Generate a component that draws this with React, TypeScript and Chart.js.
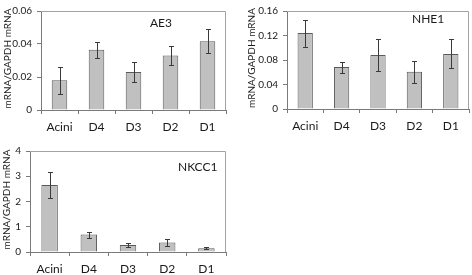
import React, { useEffect, useRef } from 'react';
import { Chart, registerables } from 'chart.js';

Chart.register(...registerables);

const categories = ['Acini', 'D4', 'D3', 'D2', 'D1'];

const ae3Values = [0.018, 0.0365, 0.023, 0.033, 0.0417];
const ae3Errors = [0.008, 0.005, 0.006, 0.0055, 0.0072];
const ae3Ticks = [0, 0.02, 0.04, 0.06];

const nhe1Values = [0.124, 0.0685, 0.088, 0.061, 0.09];
const nhe1Errors = [0.022, 0.009, 0.026, 0.018, 0.0235];
const nhe1Ticks = [0, 0.04, 0.08, 0.12, 0.16];

const nkcc1Values = [2.65, 0.69, 0.28, 0.38, 0.15];
const nkcc1Errors = [0.53, 0.12, 0.09, 0.15, 0.03];
const nkcc1Ticks = [0, 1, 2, 3, 4];

const yTitle = 'mRNA/GAPDH mRNA';
const FONT = 'Lato, "Open Sans", "Liberation Sans", sans-serif';

type Spec = {
  name: string;
  values: number[];
  errors: number[];
  ticks: number[];
  left: number;
  top: number;
  width: number;
  height: number;
  yAxisWidth: number;
  xAxisHeight: number;
  padTop: number;
  padRight: number;
  labelX: number;
  labelY: number;
  titleX: number;
};

const specs: Spec[] = [
  {
    name: 'AE3', values: ae3Values, errors: ae3Errors, ticks: ae3Ticks,
    left: 0, top: 0, width: 236, height: 140,
    yAxisWidth: 41, xAxisHeight: 30, padTop: 5, padRight: 10,
    labelX: 150, labelY: 23, titleX: 8,
  },
  {
    name: 'NHE1', values: nhe1Values, errors: nhe1Errors, ticks: nhe1Ticks,
    left: 236, top: 0, width: 236, height: 140,
    yAxisWidth: 51, xAxisHeight: 31, padTop: 4, padRight: 3,
    labelX: 176, labelY: 19, titleX: 16,
  },
  {
    name: 'NKCC1', values: nkcc1Values, errors: nkcc1Errors, ticks: nkcc1Ticks,
    left: 0, top: 140, width: 236, height: 135,
    yAxisWidth: 30, xAxisHeight: 23, padTop: 6, padRight: 10,
    labelX: 178, labelY: 27, titleX: 7,
  },
];

function Panel({ spec }: { spec: Spec }) {
  const ref = useRef<HTMLCanvasElement | null>(null);

  useEffect(() => {
    const canvas = ref.current;
    if (!canvas) return;

    const decor = {
      id: 'decor' + spec.name,
      afterDatasetsDraw(chart: any) {
        const { ctx, chartArea: a } = chart;
        const y = chart.scales.y;
        const meta = chart.getDatasetMeta(0);
        ctx.save();
        // frame top & right
        ctx.strokeStyle = '#a3a3a3';
        ctx.lineWidth = 1;
        ctx.beginPath();
        const t = Math.round(a.top) + 0.5;
        const r = Math.round(a.right) - 0.5;
        ctx.moveTo(a.left, t);
        ctx.lineTo(r, t);
        ctx.lineTo(r, a.bottom);
        ctx.stroke();
        // error bars
        ctx.strokeStyle = '#3a3a3a';
        meta.data.forEach((bar: any, i: number) => {
          const x = Math.round(bar.x) + 0.5;
          const v = spec.values[i];
          const e = spec.errors[i];
          const yt = Math.round(y.getPixelForValue(v + e)) + 0.5;
          const yb = Math.round(y.getPixelForValue(v - e)) + 0.5;
          ctx.beginPath();
          ctx.moveTo(x, yt);
          ctx.lineTo(x, yb);
          ctx.moveTo(x - 2.5, yt);
          ctx.lineTo(x + 2.5, yt);
          ctx.moveTo(x - 2.5, yb);
          ctx.lineTo(x + 2.5, yb);
          ctx.stroke();
        });
        // panel label
        ctx.fillStyle = '#1a1a1a';
        ctx.font = '12px ' + FONT;
        ctx.textBaseline = 'middle';
        ctx.textAlign = 'left';
        ctx.fillText(spec.name, spec.labelX, spec.labelY);
        // y title
        ctx.translate(spec.titleX, (a.top + a.bottom) / 2 - 2);
        ctx.rotate(-Math.PI / 2);
        ctx.textAlign = 'center';
        ctx.font = '10px ' + FONT;
        ctx.fillText(yTitle, 0, 0);
        ctx.restore();
      },
    };

    const chart = new Chart(canvas, {
      type: 'bar',
      data: {
        labels: categories,
        datasets: [
          {
            data: spec.values,
            backgroundColor: '#c0c0c0',
            borderColor: '#5a5a5a',
            borderWidth: 1,
            categoryPercentage: 1,
            barPercentage: 0.42,
          },
        ],
      },
      options: {
        animation: false,
        responsive: false,
        devicePixelRatio: 1,
        layout: { padding: { top: spec.padTop, right: spec.padRight, left: 0, bottom: 0 } },
        plugins: { legend: { display: false }, tooltip: { enabled: false }, title: { display: false } },
        scales: {
          x: {
            type: 'category',
            offset: true,
            grid: { display: true, drawOnChartArea: false, drawTicks: true, tickLength: 4, color: '#7a7a7a', offset: true },
            border: { display: true, color: '#7a7a7a' },
            ticks: { color: '#1a1a1a', font: { family: FONT, size: 12 }, padding: 6, maxRotation: 0, autoSkip: false },
            afterFit: (s: any) => { s.height = spec.xAxisHeight; },
          },
          y: {
            min: spec.ticks[0],
            max: spec.ticks[spec.ticks.length - 1],
            grid: { display: true, drawOnChartArea: false, drawTicks: true, tickLength: 4, color: '#7a7a7a' },
            border: { display: true, color: '#7a7a7a' },
            ticks: {
              color: '#1a1a1a', font: { family: FONT, size: 10 }, padding: 5,
              callback: (v: any) => String(v),
            },
            afterBuildTicks: (s: any) => { s.ticks = spec.ticks.map((v) => ({ value: v })); },
            afterFit: (s: any) => { s.width = spec.yAxisWidth; },
          },
        },
      },
      plugins: [decor],
    });
    return () => chart.destroy();
  }, [spec]);

  return (
    <canvas
      ref={ref}
      width={spec.width}
      height={spec.height}
      style={{ position: 'absolute', left: spec.left, top: spec.top, width: spec.width, height: spec.height }}
    />
  );
}

export default function App() {
  return (
    <div style={{ position: 'fixed', left: 0, top: 0, width: 472, height: 275, background: '#fff' }}>
      {specs.map((s) => (
        <Panel key={s.name} spec={s} />
      ))}
    </div>
  );
}
